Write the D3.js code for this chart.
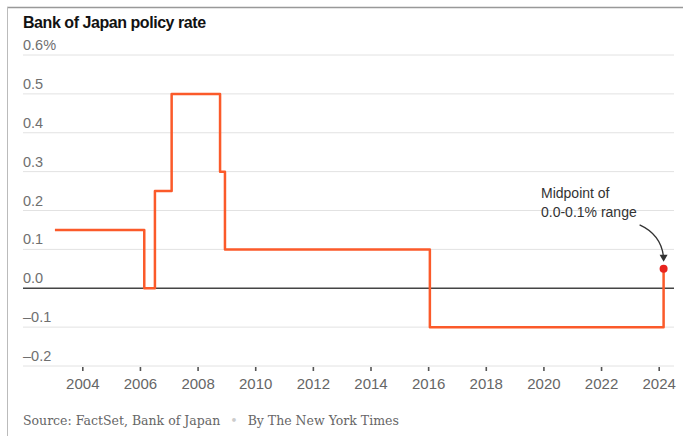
<!DOCTYPE html>
<html>
<head>
<meta charset="utf-8">
<script src="https://d3js.org/d3.v7.min.js"></script>
<style>
body { margin: 0; background: #fff; }
svg { display: block; }
</style>
</head>
<body>
<svg id="chart" width="683" height="436"></svg>
<script>
// Bank of Japan policy rate, step changes (decimal year, percent)
var dates = [2003.05, 2006.15, 2006.52, 2007.10, 2008.78, 2008.95, 2016.06, 2024.17];
var rates = [0.15, 0, 0.25, 0.5, 0.3, 0.1, -0.1, 0.05];

var yTicks = [-0.2, -0.1, 0, 0.1, 0.2, 0.3, 0.4, 0.5, 0.6];
var yTickLabels = ["–0.2", "–0.1", "0.0", "0.1", "0.2", "0.3", "0.4", "0.5", "0.6%"];
var xTicks = [2004, 2006, 2008, 2010, 2012, 2014, 2016, 2018, 2020, 2022, 2024];

var svg = d3.select("#chart");

// frame lines (top and left)
svg.append("line").attr("x1", 7).attr("x2", 683).attr("y1", 7.5).attr("y2", 7.5)
  .style("stroke", "#999").style("stroke-width", 1.5);
svg.append("line").attr("x1", 7.5).attr("x2", 7.5).attr("y1", 7).attr("y2", 436)
  .style("stroke", "#bbb").style("stroke-width", 1);

var x = d3.scaleLinear().domain([2004, 2024]).range([82.3, 658.7]);
var y = d3.scaleLinear().domain([-0.2, 0.6]).range([366, 55]);

var left = 23, right = 674;

// title
svg.append("text")
  .attr("x", 23).attr("y", 28)
  .style("font-family", "'Liberation Sans', Arial, sans-serif")
  .style("font-weight", "bold")
  .style("font-size", "16px")
  .style("letter-spacing", "-0.45px")
  .style("fill", "#121212")
  .text("Bank of Japan policy rate");

// gridlines + labels
yTicks.forEach(function (t, i) {
  svg.append("line")
    .attr("x1", left).attr("x2", right)
    .attr("y1", y(t)).attr("y2", y(t))
    .style("stroke", t === 0 ? "#444" : "#e2e2e2")
    .style("stroke-width", t === 0 ? 1.6 : 1);
  svg.append("text")
    .attr("x", left).attr("y", y(t) - 5)
    .style("font-family", "'Liberation Sans', Arial, sans-serif")
    .style("font-size", "14.5px")
    .style("fill", "#6f6f6f")
    .text(yTickLabels[i]);
});

// x axis ticks and labels
var xAxis = d3.axisBottom(x)
  .tickValues(xTicks)
  .tickFormat(d3.format("d"))
  .tickSize(4)
  .tickPadding(7);
var gx = svg.append("g").attr("transform", "translate(0," + (y(-0.2) + 1) + ")").call(xAxis);
gx.select(".domain").remove();
gx.selectAll("line").style("stroke", "#555").style("stroke-width", 1.6);
gx.selectAll("text")
  .style("font-family", "'Liberation Sans', Arial, sans-serif")
  .style("font-size", "15px")
  .style("fill", "#666");

// the rate line
var pts = dates.map(function (d, i) { return [d, rates[i]]; });
var line = d3.line()
  .x(function (d) { return x(d[0]); })
  .y(function (d) { return y(d[1]); })
  .curve(d3.curveStepAfter);

svg.append("path")
  .datum(pts)
  .attr("d", line)
  .style("fill", "none")
  .style("stroke", "#fb5a2a")
  .style("stroke-width", 2.5)
  .style("stroke-linejoin", "round");

// latest point
var last = pts[pts.length - 1];
svg.append("circle")
  .attr("cx", x(last[0])).attr("cy", y(last[1]))
  .attr("r", 4)
  .style("fill", "#e8241e");

// annotation
var note = svg.append("text")
  .style("font-family", "'Liberation Sans', Arial, sans-serif")
  .style("font-size", "14px")
  .style("fill", "#333");
note.append("tspan").attr("x", 541).attr("y", 198).text("Midpoint of");
note.append("tspan").attr("x", 541).attr("y", 217).text("0.0-0.1% range");

var ax = x(last[0]), ay = y(last[1]) - 8;
svg.append("path")
  .attr("d", "M" + (ax - 24) + "," + (ay - 36) + " Q" + (ax - 2) + "," + (ay - 26) + " " + ax + "," + (ay - 3))
  .style("fill", "none")
  .style("stroke", "#333")
  .style("stroke-width", 1.3);
svg.append("path")
  .attr("d", "M" + (ax - 4) + "," + (ay - 6) + " L" + ax + "," + (ay + 1) + " L" + (ax + 4) + "," + (ay - 6) + " Z")
  .style("fill", "#333");

// source line
var src = svg.append("text")
  .attr("x", 23).attr("y", 425)
  .style("font-family", "'DejaVu Serif', Georgia, serif")
  .style("font-size", "12.5px")
  .style("fill", "#666");
src.append("tspan").text("Source: FactSet, Bank of Japan");
src.append("tspan").attr("dx", 10).style("fill", "#ccc").text("•");
src.append("tspan").attr("dx", 10).text("By The New York Times");
</script>
</body>
</html>
